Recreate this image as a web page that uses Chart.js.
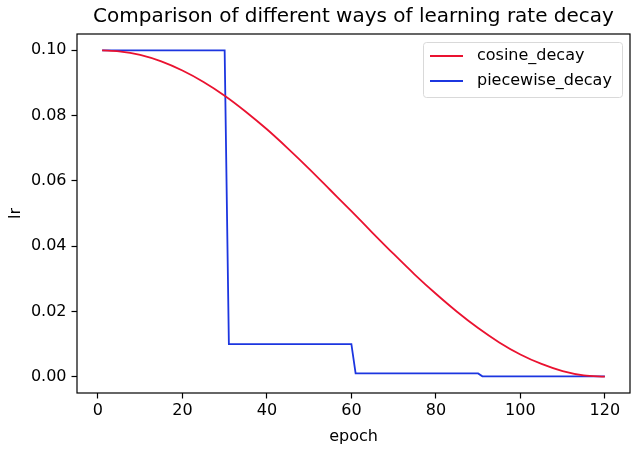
<!DOCTYPE html>
<html>
<head>
<meta charset="utf-8">
<script src="https://cdn.jsdelivr.net/npm/chart.js@4"></script>
<style>
    html, body { margin: 0; padding: 0; background: #fff; }
    #wrap { width: 641px; height: 450px; }
</style>
</head>
<body>
<div id="wrap"><canvas id="chart-lr"></canvas></div>
<script>
// values
const cosineEpochs = [1, 5, 10, 15, 20, 25, 30, 35, 40, 45, 50, 55, 60, 65, 70, 75, 80, 85, 90, 95, 100, 105, 110, 115, 120];
const cosineLr = [0.1000, 0.0997, 0.0986, 0.0966, 0.0938, 0.0903, 0.0861, 0.0812, 0.0758, 0.0699, 0.0637, 0.0572, 0.0507,
    0.0441, 0.0376, 0.0313, 0.0254, 0.0199, 0.0149, 0.0105, 0.0068, 0.0039, 0.0017, 0.0004, 0.0000];

const piecewiseEpochs = [1, 30, 31, 60, 61, 90, 91, 120];
const piecewiseLr = [0.1, 0.1, 0.01, 0.01, 0.001, 0.001, 0.0001, 0.0001];

const xTicks = [0, 20, 40, 60, 80, 100, 120];
const yTicks = [0.00, 0.02, 0.04, 0.06, 0.08, 0.10];

const FONT = 'DejaVu Sans';

const frameAndLegend = {
    id: 'frameAndLegend',
    afterDraw(chart) {
        const ctx = chart.ctx;
        const a = chart.chartArea;
        ctx.save();
        // axes frame on all four sides
        ctx.strokeStyle = '#000';
        ctx.lineWidth = 1.2;
        ctx.strokeRect(a.left, a.top, a.right - a.left, a.bottom - a.top);

        // legend box, upper right inside the axes
        const w = 199, h = 55;
        const x = a.right - 8 - w, y = a.top + 8;
        ctx.fillStyle = 'rgba(255,255,255,0.8)';
        ctx.strokeStyle = '#d9d9d9';
        ctx.lineWidth = 1;
        ctx.beginPath();
        ctx.roundRect(x + 0.5, y + 0.5, w, h, 3);
        ctx.fill();
        ctx.stroke();

        ctx.font = '16px "' + FONT + '"';
        ctx.textBaseline = 'middle';
        ctx.fillStyle = '#000';
        chart.data.datasets.forEach((ds, i) => {
            const ly = y + 14 + i * 25;
            ctx.strokeStyle = ds.borderColor;
            ctx.lineWidth = 1.8;
            ctx.beginPath();
            ctx.moveTo(x + 7, ly);
            ctx.lineTo(x + 40, ly);
            ctx.stroke();
            ctx.fillText(ds.label, x + 54, ly);
        });
        ctx.restore();
    }
};

new Chart(document.getElementById('chart-lr'), {
    type: 'line',
    data: {
        datasets: [
            {
                label: 'cosine_decay',
                data: cosineEpochs.map((e, i) => ({ x: e, y: cosineLr[i] })),
                borderColor: '#ea1230',
                borderWidth: 1.8,
                pointRadius: 0,
                cubicInterpolationMode: 'monotone'
            },
            {
                label: 'piecewise_decay',
                data: piecewiseEpochs.map((e, i) => ({ x: e, y: piecewiseLr[i] })),
                borderColor: '#1c36e0',
                borderWidth: 1.8,
                pointRadius: 0,
                tension: 0
            }
        ]
    },
    options: {
        responsive: true,
        maintainAspectRatio: false,
        animation: false,
        events: [],
        layout: { padding: { left: 0, right: 11, top: 0, bottom: 0 } },
        scales: {
            x: {
                type: 'linear',
                min: -4.95,
                max: 125.95,
                afterBuildTicks: scale => { scale.ticks = xTicks.map(v => ({ value: v })); },
                afterFit: scale => { scale.height = 57; },
                ticks: { color: '#000', font: { family: FONT, size: 16 }, padding: 3, maxRotation: 0 },
                grid: { drawOnChartArea: false, tickLength: 5.5, color: '#000', tickWidth: 1.2 },
                border: { display: false },
                title: { display: true, text: 'epoch', color: '#000', font: { family: FONT, size: 16 }, padding: { top: 0, bottom: 4 } }
            },
            y: {
                min: -0.005,
                max: 0.105,
                afterBuildTicks: scale => { scale.ticks = yTicks.map(v => ({ value: v })); },
                afterFit: scale => { scale.width = 77; },
                ticks: { color: '#000', font: { family: FONT, size: 16 }, padding: 5, callback: v => v.toFixed(2) },
                grid: { drawOnChartArea: false, tickLength: 5.5, color: '#000', tickWidth: 1.2 },
                border: { display: false },
                title: { display: true, text: 'lr', color: '#000', font: { family: FONT, size: 16 }, padding: { top: 6, bottom: 0 } }
            }
        },
        plugins: {
            legend: { display: false },
            tooltip: { enabled: false },
            title: {
                display: true,
                fullSize: false,
                text: 'Comparison of different ways of learning rate decay',
                color: '#000',
                font: { family: FONT, size: 20, weight: 'normal' },
                padding: { top: 5, bottom: 5 }
            }
        }
    },
    plugins: [frameAndLegend]
});
</script>
</body>
</html>
